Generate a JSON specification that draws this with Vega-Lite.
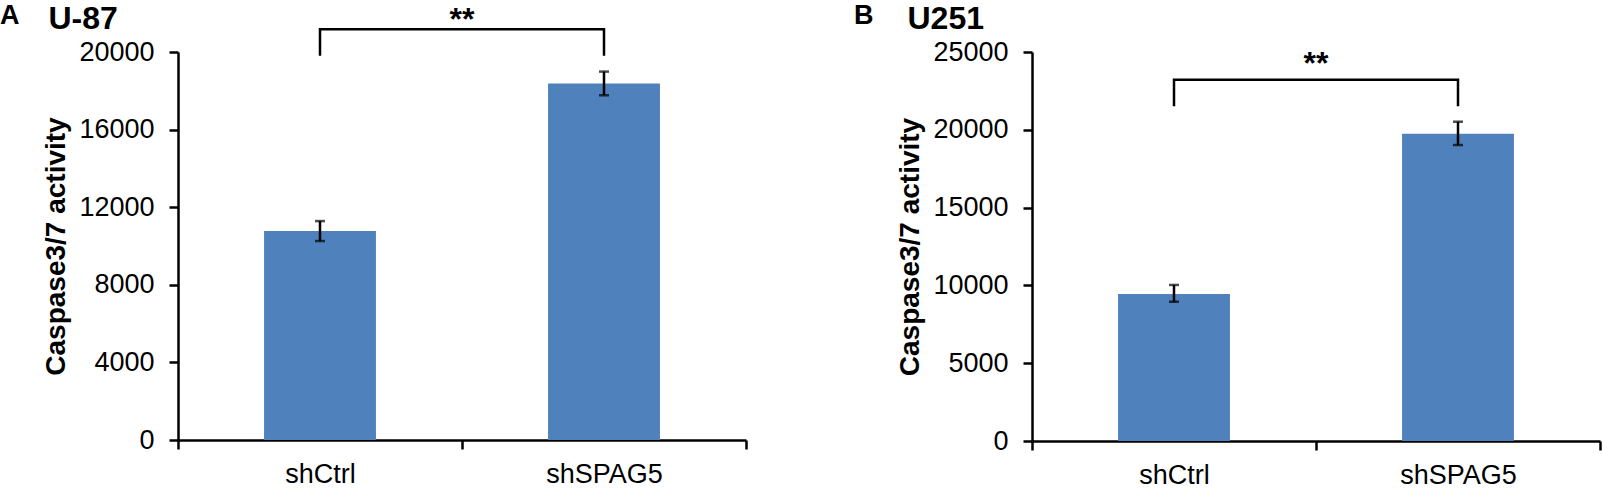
{
  "$schema": "https://vega.github.io/schema/vega-lite/v6.json",
  "background": "white",
  "padding": {"top": 2, "left": 0, "right": 0, "bottom": 0},
  "spacing": 106,
  "datasets": {
    "u87": [
      {"group": "shCtrl", "value": 10770, "lo": 10255, "hi": 11285},
      {"group": "shSPAG5", "value": 18380, "lo": 17770, "hi": 18990}
    ],
    "u87_bracket": [
      {"group": "shCtrl", "y": 19810, "k": 1},
      {"group": "shCtrl", "y": 21170, "k": 2},
      {"group": "shSPAG5", "y": 21170, "k": 3},
      {"group": "shSPAG5", "y": 19810, "k": 4}
    ],
    "u87_sig": [{"group": "shCtrl", "y": 21150, "label": "**"}],
    "u251": [
      {"group": "shCtrl", "value": 9450, "lo": 8950, "hi": 10030},
      {"group": "shSPAG5", "value": 19750, "lo": 19020, "hi": 20520}
    ],
    "u251_bracket": [
      {"group": "shCtrl", "y": 21510, "k": 1},
      {"group": "shCtrl", "y": 23220, "k": 2},
      {"group": "shSPAG5", "y": 23220, "k": 3},
      {"group": "shSPAG5", "y": 21510, "k": 4}
    ],
    "u251_sig": [{"group": "shCtrl", "y": 23600, "label": "**"}]
  },
  "hconcat": [
    {
      "width": 568,
      "height": 388,
      "title": {"text": "A", "dx": -178, "offset": -28},
      "resolve": {"axis": {"x": "independent"}},
      "layer": [
        {
          "data": {"name": "u87"},
          "mark": {"type": "bar", "color": "#4F81BD", "width": {"band": 0.394}},
          "encoding": {
            "x": {"field": "group", "type": "nominal", "sort": null, "scale": {"paddingInner": 0, "paddingOuter": 0}, "axis": {"title": null, "labelAngle": 0, "tickBand": "extent"}},
            "y": {"field": "value", "type": "quantitative", "scale": {"domain": [0, 20000], "nice": false}, "axis": {"title": "Caspase3/7 activity", "values": [0, 4000, 8000, 12000, 16000, 20000], "format": "d"}}
          }
        },
        {
          "data": {"name": "u87"},
          "mark": {"type": "rule", "color": "black", "strokeWidth": 2.5},
          "encoding": {
            "x": {"field": "group", "type": "nominal", "sort": null, "axis": null},
            "y": {"field": "lo", "type": "quantitative"},
            "y2": {"field": "hi"}
          }
        },
        {
          "data": {"name": "u87"},
          "mark": {"type": "tick", "color": "black", "size": 10, "thickness": 2.5},
          "encoding": {
            "x": {"field": "group", "type": "nominal", "sort": null, "axis": null},
            "y": {"field": "lo", "type": "quantitative"}
          }
        },
        {
          "data": {"name": "u87"},
          "mark": {"type": "tick", "color": "black", "size": 10, "thickness": 2.5},
          "encoding": {
            "x": {"field": "group", "type": "nominal", "sort": null, "axis": null},
            "y": {"field": "hi", "type": "quantitative"}
          }
        },
        {
          "data": {"name": "u87_bracket"},
          "mark": {"type": "line", "color": "black", "strokeWidth": 2.5, "clip": false},
          "encoding": {
            "x": {"field": "group", "type": "nominal", "sort": null, "axis": null},
            "y": {"field": "y", "type": "quantitative"},
            "order": {"field": "k"}
          }
        },
        {
          "data": {"name": "u87_sig"},
          "mark": {"type": "text", "font": "Liberation Sans", "fontSize": 32, "fontWeight": "bold", "baseline": "alphabetic", "clip": false},
          "encoding": {
            "x": {
              "field": "group", "type": "nominal", "sort": null, "bandPosition": 1,
              "axis": {"orient": "top", "labels": false, "ticks": false, "domain": false, "title": "U-87", "titleAnchor": "start", "titleAlign": "left", "titleAngle": 0, "titleX": -130, "titleY": -24, "titleBaseline": "alphabetic", "titleFontSize": 32}
            },
            "y": {"field": "y", "type": "quantitative"},
            "text": {"field": "label"}
          }
        }
      ]
    },
    {
      "width": 568,
      "height": 389,
      "title": {"text": "B", "dx": -178, "offset": -28},
      "resolve": {"axis": {"x": "independent"}},
      "layer": [
        {
          "data": {"name": "u251"},
          "mark": {"type": "bar", "color": "#4F81BD", "width": {"band": 0.394}},
          "encoding": {
            "x": {"field": "group", "type": "nominal", "sort": null, "scale": {"paddingInner": 0, "paddingOuter": 0}, "axis": {"title": null, "labelAngle": 0, "tickBand": "extent"}},
            "y": {"field": "value", "type": "quantitative", "scale": {"domain": [0, 25000], "nice": false}, "axis": {"title": "Caspase3/7 activity", "values": [0, 5000, 10000, 15000, 20000, 25000], "format": "d"}}
          }
        },
        {
          "data": {"name": "u251"},
          "mark": {"type": "rule", "color": "black", "strokeWidth": 2.5},
          "encoding": {
            "x": {"field": "group", "type": "nominal", "sort": null, "axis": null},
            "y": {"field": "lo", "type": "quantitative"},
            "y2": {"field": "hi"}
          }
        },
        {
          "data": {"name": "u251"},
          "mark": {"type": "tick", "color": "black", "size": 10, "thickness": 2.5},
          "encoding": {
            "x": {"field": "group", "type": "nominal", "sort": null, "axis": null},
            "y": {"field": "lo", "type": "quantitative"}
          }
        },
        {
          "data": {"name": "u251"},
          "mark": {"type": "tick", "color": "black", "size": 10, "thickness": 2.5},
          "encoding": {
            "x": {"field": "group", "type": "nominal", "sort": null, "axis": null},
            "y": {"field": "hi", "type": "quantitative"}
          }
        },
        {
          "data": {"name": "u251_bracket"},
          "mark": {"type": "line", "color": "black", "strokeWidth": 2.5, "clip": false},
          "encoding": {
            "x": {"field": "group", "type": "nominal", "sort": null, "axis": null},
            "y": {"field": "y", "type": "quantitative"},
            "order": {"field": "k"}
          }
        },
        {
          "data": {"name": "u251_sig"},
          "mark": {"type": "text", "font": "Liberation Sans", "fontSize": 32, "fontWeight": "bold", "baseline": "alphabetic", "clip": false},
          "encoding": {
            "x": {
              "field": "group", "type": "nominal", "sort": null, "bandPosition": 1,
              "axis": {"orient": "top", "labels": false, "ticks": false, "domain": false, "title": "U251", "titleAnchor": "start", "titleAlign": "left", "titleAngle": 0, "titleX": -125, "titleY": -24, "titleBaseline": "alphabetic", "titleFontSize": 32}
            },
            "y": {"field": "y", "type": "quantitative"},
            "text": {"field": "label"}
          }
        }
      ]
    }
  ],
  "config": {
    "view": {"stroke": null},
    "font": "Liberation Sans",
    "axis": {
      "grid": false,
      "domainColor": "black",
      "domainWidth": 2.5,
      "tickColor": "black",
      "tickWidth": 2.5,
      "tickSize": 9,
      "labelFont": "Liberation Sans",
      "labelFontSize": 27,
      "labelColor": "black",
      "titleFont": "Liberation Sans",
      "titleFontSize": 28,
      "titleFontWeight": "bold",
      "titleColor": "black"
    },
    "axisY": {"labelPadding": 15, "titlePadding": 8},
    "axisX": {"labelPadding": 12},
    "title": {
      "anchor": "start",
      "frame": "group",
      "font": "Liberation Sans",
      "fontSize": 27,
      "fontWeight": "bold",
      "color": "black"
    }
  }
}
